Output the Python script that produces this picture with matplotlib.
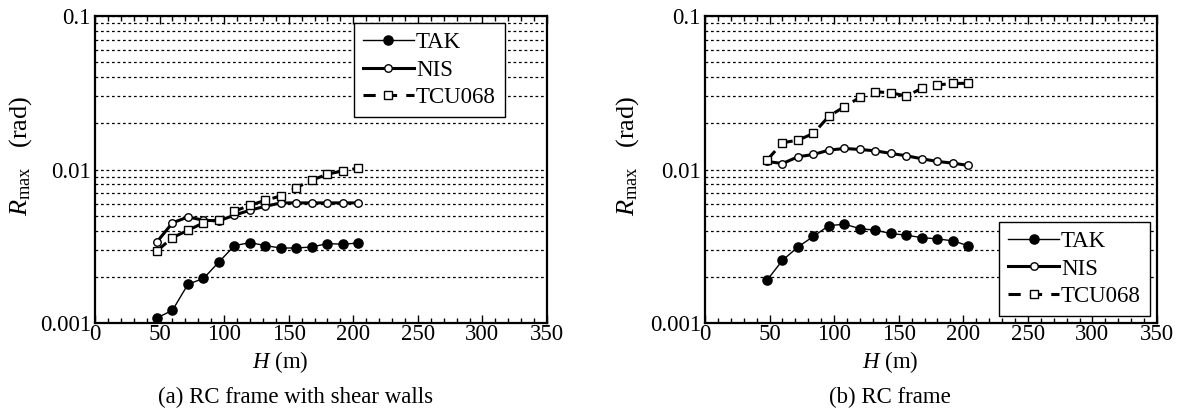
import matplotlib
matplotlib.use("Agg")
import matplotlib.pyplot as plt
from matplotlib.ticker import MultipleLocator, LogLocator, FixedLocator, NullFormatter, FixedFormatter

plt.rcParams['font.family'] = ['Liberation Serif', 'DejaVu Serif']
plt.rcParams['mathtext.fontset'] = 'custom'
plt.rcParams['mathtext.rm'] = 'Liberation Serif'
plt.rcParams['mathtext.it'] = 'Liberation Serif:italic'

H = [48, 60, 72, 84, 96, 108, 120, 132, 144, 156, 168, 180, 192, 204]

# (a) RC frame with shear walls
tak_a = [0.00108, 0.00121, 0.00179, 0.00195, 0.00250, 0.00319, 0.00334, 0.00319,
         0.00308, 0.00308, 0.00313, 0.00329, 0.00326, 0.00332]
nis_a = [0.00338, 0.00449, 0.00491, 0.00467, 0.00463, 0.00504, 0.00543, 0.00576,
         0.00606, 0.00606, 0.00606, 0.00606, 0.00606, 0.00606]
tcu_a = [0.00295, 0.00360, 0.00402, 0.00449, 0.00472, 0.00535, 0.00585, 0.00630,
         0.00673, 0.00763, 0.00852, 0.00933, 0.00980, 0.01020]

# (b) RC frame
tak_b = [0.00190, 0.00256, 0.00313, 0.00367, 0.00431, 0.00440, 0.00412, 0.00402,
         0.00383, 0.00373, 0.00360, 0.00353, 0.00343, 0.00318]
nis_b = [0.01128, 0.01094, 0.01210, 0.01253, 0.01337, 0.01371, 0.01350, 0.01323,
         0.01272, 0.01228, 0.01174, 0.01128, 0.01100, 0.01062]
tcu_b = [0.01150, 0.01493, 0.01554, 0.01717, 0.02228, 0.02563, 0.02950, 0.03210,
         0.03160, 0.03010, 0.03380, 0.03550, 0.03640, 0.03640]

series_names = ["TAK", "NIS", "TCU068"]
x_ticks = [0, 50, 100, 150, 200, 250, 300, 350]
y_ticks = [0.001, 0.01, 0.1]
y_ticklabels = ["0.001", "0.01", "0.1"]
captions = ["(a) RC frame with shear walls", "(b) RC frame"]

W, Hpx = 1187, 415
fig = plt.figure(figsize=(W / 100, Hpx / 100), dpi=100)

FS = 16.5

def make_ax(left_px, ylab_right_px, tak, nis, tcu, legend_loc, anchor):
    ax = fig.add_axes([left_px / W, (Hpx - 323) / Hpx, 452 / W, 307 / Hpx])
    ax.set_yscale('log')
    ax.set_xlim(0, 350)
    ax.set_ylim(0.001, 0.1)
    ax.yaxis.set_major_locator(FixedLocator(y_ticks))
    ax.yaxis.set_major_formatter(FixedFormatter(y_ticklabels))
    ax.yaxis.set_minor_locator(LogLocator(base=10, subs=range(2, 10)))
    ax.yaxis.set_minor_formatter(NullFormatter())
    ax.grid(True, which='both', axis='y', color='black', linestyle=(0, (2.2, 2.2)), linewidth=0.9)
    ax.xaxis.set_major_locator(FixedLocator(x_ticks))
    ax.xaxis.set_minor_locator(MultipleLocator(10))
    ax.tick_params(axis='x', which='both', direction='in', top=True, bottom=True, labelsize=FS, pad=1)
    ax.tick_params(axis='x', which='major', length=6, width=1)
    ax.tick_params(axis='x', which='minor', length=3.5, width=1)
    ax.tick_params(axis='y', which='both', direction='in', left=True, right=True, length=0, labelsize=FS, pad=3)
    for s in ax.spines.values():
        s.set_linewidth(1.6)

    l1, = ax.plot(H, tak, color='black', lw=1.0, marker='o', ms=6.6, mfc='black', mec='black', label=series_names[0])
    l2, = ax.plot(H, nis, color='black', lw=2.2, marker='o', ms=5.4, mfc='white', mec='black', mew=1.0, label=series_names[1])
    l3, = ax.plot(H, tcu, color='black', lw=2.2, linestyle=(0, (4, 3)), marker='s', ms=6.0, mfc='white', mec='black', mew=1.0, label=series_names[2])

    ax.set_xlabel(r'$H$ (m)', fontsize=FS)
    ax.xaxis.set_label_coords(0.41, -0.085)
    ax.set_ylabel(r'$R_{\rm max}$   (rad)', fontsize=19)
    ax.yaxis.set_label_coords((ylab_right_px - left_px) / 452, 0.544)
    leg = ax.legend(handles=[l1, l2, l3], loc=legend_loc, bbox_to_anchor=anchor, fontsize=FS,
                    frameon=True, fancybox=False, edgecolor='black', framealpha=1,
                    handlelength=2.2, handletextpad=0.1, borderpad=0.4, labelspacing=0.28,
                    borderaxespad=0.3)
    leg.get_frame().set_linewidth(1.0)
    return ax

ax1 = make_ax(95, 34, tak_a, nis_a, tcu_a, 'upper center', (0.74, 1.0))
ax2 = make_ax(705, 641, tak_b, nis_b, tcu_b, 'lower right', (1.0, 0.0))

fig.text(296 / W, 1 - 397 / Hpx, captions[0], ha='center', va='center', fontsize=FS)
fig.text(890 / W, 1 - 397 / Hpx, captions[1], ha='center', va='center', fontsize=FS)

fig.savefig('out.png', dpi=100)
